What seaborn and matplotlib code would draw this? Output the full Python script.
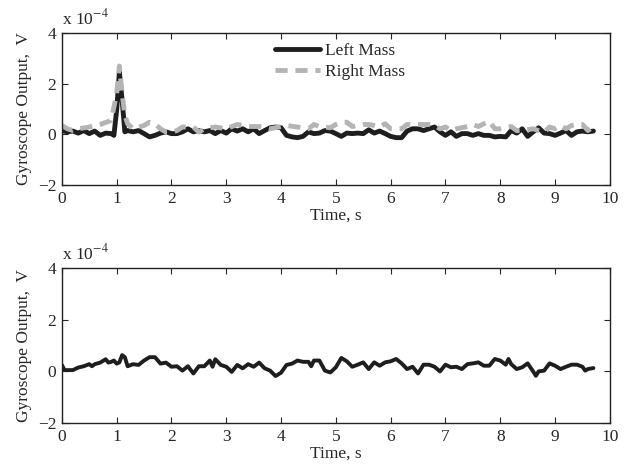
import pandas as pd
import seaborn as sns
import matplotlib.pyplot as plt

# values in units of 1e-4 V
left_t = [0, 0.1, 0.2, 0.3, 0.4, 0.5, 0.6, 0.7, 0.8, 0.9, 0.95, 1.0, 1.05, 1.1, 1.15,
          1.2, 1.3, 1.4, 1.5, 1.6, 1.7, 1.8, 1.9, 2.0, 2.1, 2.2, 2.3, 2.4, 2.5, 2.6,
          2.7, 2.8, 2.9, 3.0, 3.1, 3.2, 3.3, 3.4, 3.5, 3.6, 3.7, 3.8, 3.9, 4.0, 4.1,
          4.2, 4.3, 4.4, 4.5, 4.6, 4.7, 4.8, 4.9, 5.0, 5.1, 5.2, 5.3, 5.4, 5.5, 5.6,
          5.7, 5.8, 5.9, 6.0, 6.1, 6.2, 6.3, 6.4, 6.5, 6.6, 6.7, 6.8, 6.9, 7.0, 7.1,
          7.2, 7.3, 7.4, 7.5, 7.6, 7.7, 7.8, 7.9, 8.0, 8.1, 8.2, 8.3, 8.4, 8.5, 8.6,
          8.7, 8.8, 8.9, 9.0, 9.1, 9.2, 9.3, 9.4, 9.5, 9.6, 9.7]
left_v = [0.15, 0.1, 0.13, 0.05, 0.15, 0.03, 0.13, -0.04, 0.05, 0.03, -0.04, 0.95, 2.45, 1.35, 0.1,
          0.15, 0.1, 0.15, 0.03, -0.1, -0.04, 0.05, 0.1, 0.03, 0.03, 0.1, 0.22, 0.1, 0.15, 0.1,
          0.15, 0.03, 0.15, 0.05, 0.22, 0.13, 0.22, 0.1, 0.22, 0.03, 0.15, 0.26, 0.29, 0.26, -0.04,
          -0.1, -0.13, -0.08, 0.1, 0.03, 0.05, 0.15, 0.13, 0.03, -0.08, 0.05, 0.03, 0.05, 0.03, 0.18,
          0.05, 0.13, 0.03, -0.08, -0.13, -0.13, 0.13, 0.22, 0.22, 0.15, 0.22, 0.29, 0.1, -0.04, 0.1,
          -0.08, 0.03, 0.03, -0.04, 0.03, -0.04, -0.04, -0.1, -0.08, -0.1, 0.15, 0.05, 0.22, -0.08, 0.1,
          0.26, 0.05, 0.03, -0.04, 0.05, 0.15, -0.04, 0.1, 0.13, 0.1, 0.13]

right_t = [0, 0.1, 0.2, 0.3, 0.5, 0.7, 0.9, 1.0, 1.05, 1.1, 1.15, 1.2, 1.3, 1.5, 1.6,
           1.7, 1.8, 1.9, 2.0, 2.1, 2.2, 2.4, 2.5, 2.6, 2.8, 3.0, 3.2, 3.4, 3.6, 3.8,
           4.0, 4.1, 4.3, 4.4, 4.5, 4.6, 4.7, 4.9, 5.0, 5.1, 5.2, 5.3, 5.4, 5.5, 5.6,
           5.7, 5.8, 5.9, 6.0, 6.2, 6.3, 6.5, 6.7, 6.8, 6.9, 7.0, 7.1, 7.2, 7.4, 7.5,
           7.6, 7.8, 7.9, 8.0, 8.2, 8.3, 8.4, 8.6, 8.7, 8.8, 8.9, 9.0, 9.1, 9.2, 9.3,
           9.4, 9.5, 9.6, 9.7]
right_v = [0.35, 0.22, 0.15, 0.22, 0.29, 0.39, 0.55, 1.6, 2.7, 1.6, 0.75, 0.42, 0.22, 0.35, 0.48,
           0.42, 0.22, 0.09, 0.09, 0.15, 0.29, 0.29, 0.09, 0.22, 0.29, 0.22, 0.39, 0.31, 0.31, 0.22,
           0.31, 0.35, 0.29, 0.26, 0.22, 0.39, 0.31, 0.26, 0.39, 0.48, 0.48, 0.31, 0.35, 0.39, 0.39,
           0.35, 0.29, 0.42, 0.22, 0.22, 0.39, 0.39, 0.39, 0.35, 0.22, 0.29, 0.15, 0.22, 0.31, 0.39,
           0.31, 0.52, 0.22, 0.22, 0.31, 0.15, 0.15, 0.22, 0.15, 0.09, 0.29, 0.22, 0.35, 0.22, 0.35,
           0.39, 0.39, 0.15, 0.31]

bottom_t = [0, 0.05, 0.1, 0.2, 0.3, 0.4, 0.5, 0.55, 0.6, 0.7, 0.8, 0.85, 0.9, 0.95, 1.0,
            1.05, 1.1, 1.15, 1.2, 1.3, 1.4, 1.5, 1.6, 1.7, 1.8, 1.9, 2.0, 2.1, 2.2, 2.3,
            2.4, 2.5, 2.6, 2.7, 2.75, 2.8, 2.9, 3.0, 3.1, 3.2, 3.3, 3.4, 3.5, 3.6, 3.7,
            3.8, 3.9, 4.0, 4.1, 4.2, 4.3, 4.4, 4.5, 4.55, 4.6, 4.7, 4.8, 4.9, 5.0, 5.1,
            5.2, 5.3, 5.4, 5.5, 5.6, 5.7, 5.8, 5.9, 6.0, 6.1, 6.2, 6.3, 6.4, 6.5, 6.6,
            6.7, 6.8, 6.9, 7.0, 7.1, 7.2, 7.3, 7.4, 7.5, 7.6, 7.7, 7.8, 7.9, 8.0, 8.1,
            8.15, 8.2, 8.3, 8.4, 8.5, 8.6, 8.65, 8.7, 8.8, 8.9, 9.0, 9.1, 9.2, 9.3, 9.4,
            9.5, 9.55, 9.6, 9.7]
bottom_v = [0.25, 0.05, 0.05, 0.05, 0.15, 0.2, 0.28, 0.2, 0.28, 0.34, 0.47, 0.34, 0.37, 0.42, 0.3,
            0.35, 0.63, 0.55, 0.2, 0.28, 0.25, 0.42, 0.55, 0.55, 0.3, 0.34, 0.18, 0.2, 0.03, 0.2,
            -0.08, 0.2, 0.2, 0.42, 0.18, 0.47, 0.25, 0.18, -0.02, 0.25, 0.12, 0.28, 0.18, 0.34, 0.12,
            0.03, -0.18, -0.05, 0.25, 0.3, 0.42, 0.37, 0.37, 0.2, 0.42, 0.42, 0.03, -0.04, 0.16, 0.52,
            0.39, 0.18, 0.26, 0.35, 0.09, 0.35, 0.22, 0.35, 0.39, 0.48, 0.31, 0.09, 0.18, -0.08, 0.26,
            0.26, 0.18, 0.0, 0.26, 0.16, 0.18, 0.09, 0.28, 0.31, 0.35, 0.22, 0.22, 0.48, 0.42, 0.26,
            0.48, 0.28, 0.09, 0.16, 0.31, 0.0, -0.17, 0.0, 0.03, 0.31, 0.22, 0.09, 0.18, 0.26, 0.26,
            0.18, 0.03, 0.09, 0.13]

sns.set_style('ticks')
plt.rcParams['font.family'] = ['Liberation Serif', 'DejaVu Serif']
plt.rcParams['mathtext.fontset'] = 'stix'

fig = plt.figure(figsize=(6.31, 4.66), dpi=100)
ax1 = fig.add_axes([0.098, 0.603, 0.8685, 0.326])
ax2 = fig.add_axes([0.098, 0.092, 0.8685, 0.333])

sns.lineplot(x=left_t, y=left_v, ax=ax1, color='#1e1e1e', linewidth=3.5, label='Left Mass')
sns.lineplot(x=right_t, y=right_v, ax=ax1, color='#b4b4b4', linewidth=3.5, linestyle='--',
             label='Right Mass')
ax1.lines[1].set_dashes((2.5, 1.6))
sns.lineplot(x=bottom_t, y=bottom_v, ax=ax2, color='#1e1e1e', linewidth=2.8)

for ax in (ax1, ax2):
    ax.set_xlim(0, 10)
    ax.set_ylim(-2, 4)
    ax.set_xticks(range(11))
    ax.set_yticks([-2, 0, 2, 4])
    ax.set_yticklabels(['\u22122', '0', '2', '4'])
    ax.tick_params(direction='in', top=True, right=True, labelsize=12.5, length=4, pad=4)
    for s in ax.spines.values():
        s.set_linewidth(1.0)
        s.set_color('#222222')
    ax.set_xlabel('Time, s', fontsize=12.5, labelpad=1)
    ax.set_ylabel('Gyroscope Output,  V', fontsize=12.5, labelpad=4)
    ax.text(0.0, 1.03, r'x 10$^{-4}$', transform=ax.transAxes, fontsize=12.5, va='bottom')

leg = ax1.legend(loc='upper left', bbox_to_anchor=(0.36, 1.04), frameon=False, fontsize=12.5,
                 handlelength=2.6, handletextpad=0.3, labelspacing=0.3)

plt.savefig('out.png', dpi=100)
plt.close()
